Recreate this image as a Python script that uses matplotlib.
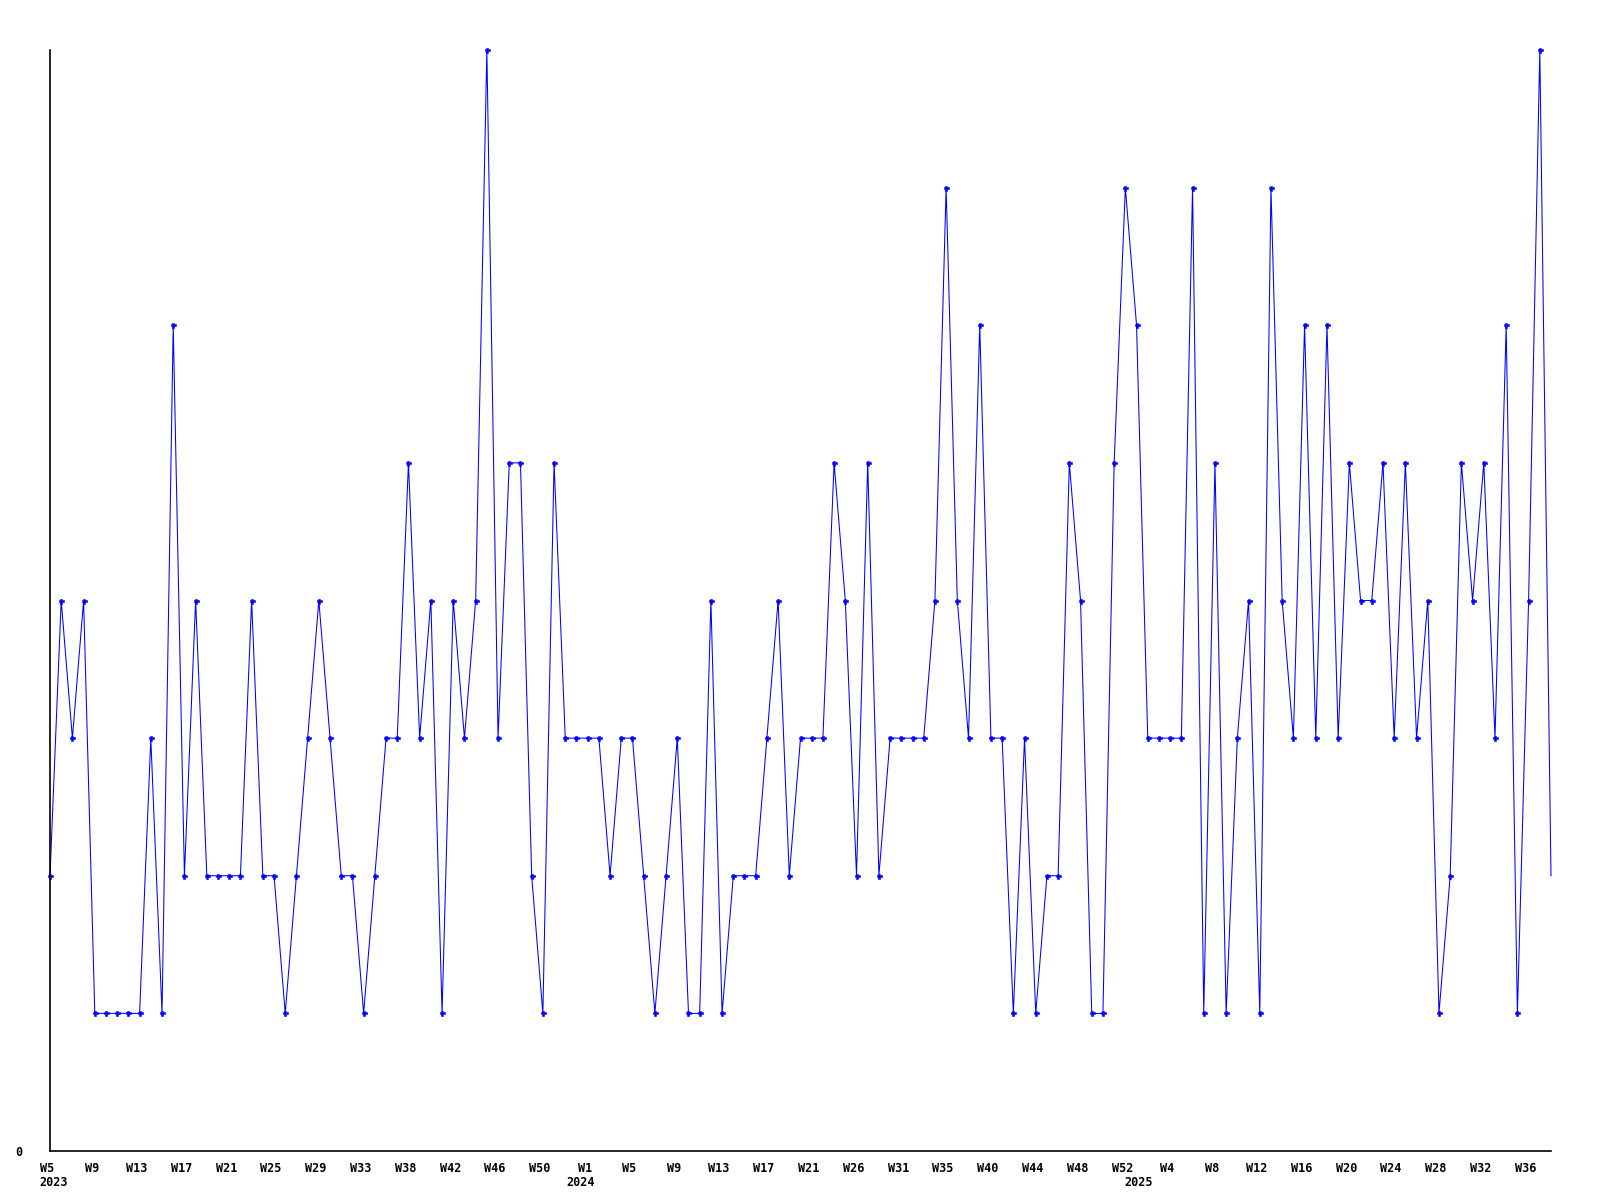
import matplotlib
matplotlib.use("Agg")
import matplotlib.pyplot as plt
from matplotlib.transforms import ScaledTranslation
import numpy as np

# weekly counts, 2023 W5 .. 2025 W38 (one point per week in the data)
values = [
    2, 4, 3, 4, 1, 1, 1, 1, 1, 3, 1, 6, 2, 4, 2, 2, 2, 2, 4, 2,
    2, 1, 2, 3, 4, 3, 2, 2, 1, 2, 3, 3, 5, 3, 4, 1, 4, 3, 4, 8,
    3, 5, 5, 2, 1, 5, 3, 3, 3, 3, 2, 3, 3, 2, 1, 2, 3, 1, 1, 4,
    1, 2, 2, 2, 3, 4, 2, 3, 3, 3, 5, 4, 2, 5, 2, 3, 3, 3, 3, 4,
    7, 4, 3, 6, 3, 3, 1, 3, 1, 2, 2, 5, 4, 1, 1, 5, 7, 6, 3, 3,
    3, 3, 7, 1, 5, 1, 3, 4, 1, 7, 4, 3, 6, 3, 6, 3, 5, 4, 4, 5,
    3, 5, 3, 4, 1, 2, 5, 4, 5, 3, 6, 1, 4, 8, 2,
]

# every 4th point gets a week label
week_labels = [
    "W5", "W9", "W13", "W17", "W21", "W25", "W29", "W33", "W38", "W42", "W46", "W50",
    "W1", "W5", "W9", "W13", "W17", "W21", "W26", "W31", "W35", "W40", "W44", "W48", "W52",
    "W4", "W8", "W12", "W16", "W20", "W24", "W28", "W32", "W36",
]
year_labels = ["2023", "2024", "2025"]
year_index = [0, 48, 97]  # first week of each year in the series
year_nudge_px = [4, -7, 2]

W, H = 1600, 1200
fig = plt.figure(figsize=(16, 12), dpi=100)
ax = fig.add_axes([50 / W, 1 - 1151 / H, (1551 - 50) / W, (1151 - 50) / H])

x = np.arange(len(values))
# the last (current, incomplete) week has no marker
ax.plot(x, values, color="#0000ff", lw=0.75, marker="P", ms=3.6,
        mec="#0000ff", mfc="#0000ff", mew=0.4,
        markevery=slice(0, len(values) - 1), clip_on=False)

ax.set_xlim(0, len(values) - 1)
ax.set_ylim(0, 8)

for s in ("top", "right"):
    ax.spines[s].set_visible(False)
for s in ("left", "bottom"):
    ax.spines[s].set_color("black")
    ax.spines[s].set_linewidth(1.2)

font = dict(family="DejaVu Sans Mono", weight="bold", size=8.5)

ax.set_xticks(x[::4])
ax.set_xticklabels(week_labels, **font)
ax.tick_params(axis="x", length=0, pad=8)
shift = ScaledTranslation(-3 / 100, 0, fig.dpi_scale_trans)
for lab in ax.get_xticklabels():
    lab.set_transform(lab.get_transform() + shift)

ax.set_yticks([0])
ax.set_yticklabels(["0"], **font)
ax.tick_params(axis="y", length=0, pad=20)

trans = ax.get_xaxis_transform()
for lab, i, dx in zip(year_labels, year_index, year_nudge_px):
    t = trans + ScaledTranslation(dx / 100, 0, fig.dpi_scale_trans)
    ax.text(i, -31 / 1101, lab, transform=t, ha="center", va="center", **font)

fig.savefig("out.png", dpi=100, facecolor="white")
